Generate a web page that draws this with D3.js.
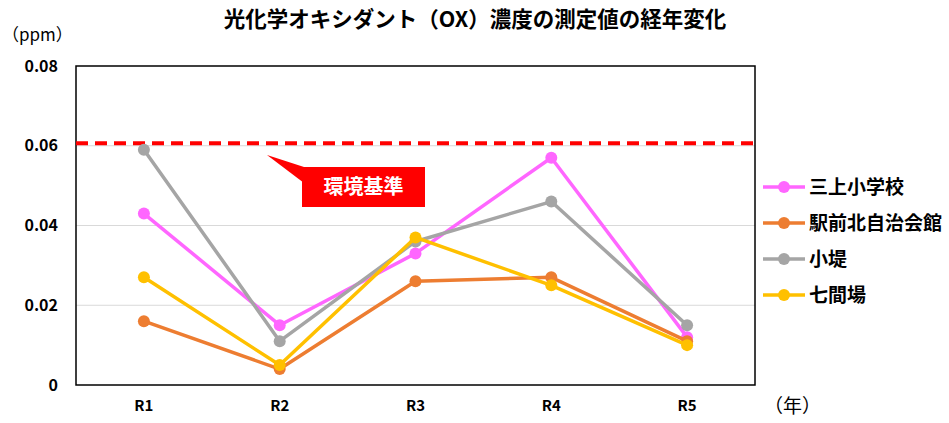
<!DOCTYPE html>
<html>
<head>
<meta charset="utf-8">
<script src="https://cdn.jsdelivr.net/npm/d3@7"></script>
<style>
  body { margin: 0; background: #fff; }
  svg text { font-family: "Noto Sans CJK JP", "Noto Sans", sans-serif; }
</style>
</head>
<body>
<svg id="chart" width="949" height="423"></svg>
<script>
// データ
const years = ["R1", "R2", "R3", "R4", "R5"];
const stations = ["三上小学校", "駅前北自治会館", "小堤", "七間場"];
const mikami = [0.043, 0.015, 0.033, 0.057, 0.012];
const ekimae = [0.016, 0.004, 0.026, 0.027, 0.011];
const kozutsumi = [0.059, 0.011, 0.036, 0.046, 0.015];
const shichikenba = [0.027, 0.005, 0.037, 0.025, 0.010];
const yTicks = [0, 0.02, 0.04, 0.06, 0.08];
const standardValue = 0.0606; // 環境基準ライン

const colors = ["#ff66ff", "#ed7d31", "#a5a5a5", "#ffc000"];
const seriesList = [mikami, ekimae, kozutsumi, shichikenba];

const svg = d3.select("#chart");
const margin = { top: 66, right: 194, bottom: 38, left: 76 };
const width = 949, height = 423;
const innerWidth = width - margin.left - margin.right;
const innerHeight = height - margin.top - margin.bottom;

const x = d3.scaleBand().domain(years).range([0, innerWidth]);
const y = d3.scaleLinear().domain([0, 0.08]).range([innerHeight, 0]);
const cx = d => x(d) + x.bandwidth() / 2;

const g = svg.append("g").attr("transform", `translate(${margin.left},${margin.top})`);

// グリッド線
g.selectAll("line.grid")
    .data(yTicks.slice(1, -1))
    .enter().append("line")
    .attr("x1", 0).attr("x2", innerWidth)
    .attr("y1", d => y(d)).attr("y2", d => y(d))
    .attr("stroke", "#d9d9d9").attr("stroke-width", 1);

// 軸ラベル
const yAxis = g.append("g")
    .call(d3.axisLeft(y).tickValues(yTicks).tickSize(0).tickPadding(18)
        .tickFormat(d => d === 0 ? "0" : d3.format(".2f")(d)));
yAxis.select(".domain").remove();
yAxis.selectAll("text").style("font-size", "16px").style("font-weight", "bold").attr("fill", "#000");

const xAxis = g.append("g")
    .attr("transform", `translate(0,${innerHeight})`)
    .call(d3.axisBottom(x).tickSize(0).tickPadding(15));
xAxis.select(".domain").remove();
xAxis.selectAll("text").style("font-size", "15px").style("font-weight", "bold").attr("fill", "#000");

// 枠線
g.append("rect")
    .attr("width", innerWidth).attr("height", innerHeight)
    .attr("fill", "none").attr("stroke", "#000").attr("stroke-width", 1.5);

// 環境基準ライン
g.append("line")
    .attr("x1", 0).attr("x2", innerWidth + 2)
    .attr("y1", y(standardValue)).attr("y2", y(standardValue))
    .attr("stroke", "#ff0000").attr("stroke-width", 4)
    .attr("stroke-dasharray", "12,7");

// 折れ線
const line = d3.line().x((d, i) => cx(years[i])).y(d => y(d));
seriesList.forEach((vals, k) => {
    g.append("path")
        .datum(vals)
        .attr("d", line)
        .attr("fill", "none")
        .attr("stroke", colors[k])
        .attr("stroke-width", 3.5)
        .attr("stroke-linejoin", "round");
    g.selectAll(null)
        .data(vals)
        .enter().append("circle")
        .attr("cx", (d, i) => cx(years[i]))
        .attr("cy", d => y(d))
        .attr("r", 6)
        .attr("fill", colors[k]);
});

// 環境基準の吹き出し
const boxX = 302 - margin.left, boxY = 167 - margin.top;
g.append("path")
    .attr("d", `M${267 - margin.left},${155 - margin.top} L${boxX + 2},${boxY} L${boxX + 2},${boxY + 16} Z`)
    .attr("fill", "#ff0000");
g.append("rect")
    .attr("x", boxX).attr("y", boxY)
    .attr("width", 123).attr("height", 40)
    .attr("fill", "#ff0000");
g.append("text")
    .attr("x", boxX + 61.5).attr("y", boxY + 27)
    .attr("text-anchor", "middle")
    .style("font-size", "20px").style("font-weight", "bold")
    .attr("fill", "#fff")
    .text("環境基準");

// 凡例
const legend = svg.append("g").attr("transform", "translate(763,187)");
stations.forEach((name, k) => {
    const row = legend.append("g").attr("transform", `translate(0,${k * 36})`);
    row.append("line").attr("x1", 0).attr("x2", 42).attr("y1", 0).attr("y2", 0)
        .attr("stroke", colors[k]).attr("stroke-width", 3.5);
    row.append("circle").attr("cx", 21).attr("r", 6).attr("fill", colors[k]);
    row.append("text").attr("x", 46).attr("y", 7)
        .style("font-size", "19px").style("font-weight", "bold")
        .text(name);
});

// タイトル・単位
svg.append("text")
    .attr("x", 475).attr("y", 27)
    .attr("text-anchor", "middle")
    .style("font-size", "21.5px").style("font-weight", "bold")
    .text("光化学オキシダント（OX）濃度の測定値の経年変化");

svg.append("text")
    .attr("x", 2).attr("y", 41)
    .style("font-size", "17px")
    .text("（ppm）");

svg.append("text")
    .attr("x", 764).attr("y", 413)
    .style("font-size", "19px")
    .text("（年）");
</script>
</body>
</html>
